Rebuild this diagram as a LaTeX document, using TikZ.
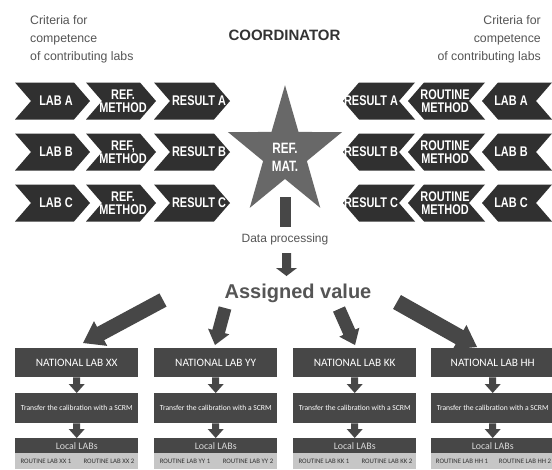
\documentclass[tikz,border=0pt]{standalone}
\usepackage{fontspec}
\setmainfont{Liberation Sans}
\newfontfamily\condfont[FakeStretch=0.78]{Liberation Sans}
\newfontfamily\calfont{Carlito}
\usetikzlibrary{calc}
\definecolor{chev}{HTML}{303030}
\definecolor{stargray}{HTML}{686868}
\definecolor{boxgray}{HTML}{474747}
\definecolor{rowgray}{HTML}{C6C6C6}
\definecolor{txtgray}{HTML}{555555}
\definecolor{lightt}{HTML}{DADADA}
\definecolor{darkt}{HTML}{333333}

% right-pointing chevron: left x, tip x, centre y
\newcommand{\chevR}[3]{\fill[chev] (#1,#3-18.5) -- (#2-16,#3-18.5) -- (#2,#3) -- (#2-16,#3+18.5) -- (#1,#3+18.5) -- (#1+16,#3) -- cycle;}
% left-pointing chevron: tip x, right x, centre y
\newcommand{\chevL}[3]{\fill[chev] (#1,#3) -- (#1+16,#3-18.5) -- (#2,#3-18.5) -- (#2-16,#3) -- (#2,#3+18.5) -- (#1+16,#3+18.5) -- cycle;}
% block arrow: tail, tip, shaft half width, head half width, head length
\newcommand{\blk}[5]{%
  \coordinate (bkC) at ($(#2)!#5!(#1)$);
  \fill[boxgray] ($(#1)!#3!90:(#2)$) -- ($(bkC)!#3!-90:(#1)$) -- ($(bkC)!#4!-90:(#1)$) -- (#2)
     -- ($(bkC)!#4!90:(#1)$) -- ($(bkC)!#3!90:(#1)$) -- ($(#1)!#3!-90:(#2)$) -- cycle;}

\tikzset{
  chevtxt/.style={text=white, font=\condfont\bfseries\fontsize{14}{13.5}\selectfont, align=center, inner sep=0pt},
  startxt/.style={text=white, font=\condfont\bfseries\fontsize{15}{18}\selectfont, align=center, inner sep=0pt},
  crit/.style={text=txtgray, font=\fontsize{12.3}{18}\selectfont, inner sep=0pt},
  natbox/.style={rectangle, fill=boxgray, inner sep=0pt, anchor=north west, minimum width=123pt},
  nattxt/.style={text=white, font=\calfont\fontsize{11.3}{12}\selectfont, inner sep=0pt},
  trtxt/.style={text=white, font=\calfont\fontsize{7.6}{8}\selectfont, inner sep=0pt},
  loctxt/.style={text=lightt, font=\calfont\fontsize{9.9}{10}\selectfont, inner sep=0pt},
  rowtxt/.style={text=darkt, font=\calfont\fontsize{6.8}{7}\selectfont, inner sep=0pt},
}

\begin{document}
\begin{tikzpicture}[x=1pt,y=-1pt]
\useasboundingbox (0,0) rectangle (552,469);
\fill[white] (0,0) rectangle (552,469);

% headers
\node[crit, anchor=base west] (cl1) at (30,24) {Criteria for};
\node[crit, anchor=base west] (cl2) at (30,42) {competence};
\node[crit, anchor=base west] (cl3) at (30,60) {of contributing labs};
\node[crit, anchor=base east] (cr1) at (541,24) {Criteria for};
\node[crit, anchor=base east] (cr2) at (541,42) {competence};
\node[crit, anchor=base east] (cr3) at (541,60) {of contributing labs};
\node[anchor=base, inner sep=0pt, text=darkt, font=\bfseries\fontsize{15}{15}\selectfont] (coord) at (284.5,40) {COORDINATOR};

% chevron rows
\foreach \L/\y/\r in {A/101/REF.,B/152/{REF,},C/203/REF.} {
  \chevR{15}{90}{\y}
  \chevR{86}{156}{\y}
  \chevR{154}{230}{\y}
  \node[chevtxt] (labL\L) at (56,\y) {LAB \L};
  \node[chevtxt] (refL\L) at (123,\y) {\r\\METHOD};
  \node[chevtxt] (resL\L) at (199,\y) {RESULT \L};
  \chevL{343}{415}{\y}
  \chevL{408}{485}{\y}
  \chevL{482}{552}{\y}
  \node[chevtxt] (resR\L) at (371,\y) {RESULT \L};
  \node[chevtxt] (rouR\L) at (445,\y) {ROUTINE\\METHOD};
  \node[chevtxt] (labR\L) at (511,\y) {LAB \L};
}

% star
\fill[stargray, shift={(285,153)}, yscale=1.13]
  (-90:60) -- (-54:23) -- (-18:60) -- (18:23) -- (54:60) -- (90:23)
  -- (126:60) -- (162:23) -- (198:60) -- (234:23) -- cycle;
\node[startxt] (star) at (285,157.5) {REF.\\MAT.};

% data processing
\coordinate (barTop) at (285.5,197);
\fill[boxgray] (280,197) rectangle (291,227);
\node[anchor=base, inner sep=0pt, text=txtgray, font=\fontsize{12}{12}\selectfont] (dp) at (285,242) {Data processing};
\coordinate (dpA) at (286.5,253);
\coordinate (dpB) at (286.5,276);
\blk{dpA}{dpB}{4.5pt}{10.5pt}{8pt}

\node[anchor=base, inner sep=0pt, text=txtgray, font=\bfseries\fontsize{20}{20}\selectfont] (av) at (298,298) {Assigned value};

% big arrows
\coordinate (t1) at (163,300); \coordinate (h1) at (83,343);
\coordinate (t2) at (225,308); \coordinate (h2) at (215,345);
\coordinate (t3) at (339,309); \coordinate (h3) at (355,345);
\coordinate (t4) at (397,302); \coordinate (h4) at (477,347);
\blk{t1}{h1}{7.5pt}{14pt}{20pt}
\blk{t2}{h2}{6.5pt}{11pt}{14pt}
\blk{t3}{h3}{6.5pt}{11pt}{14pt}
\blk{t4}{h4}{8pt}{14pt}{20pt}

% national lab columns
\foreach \n/\x in {XX/15,YY/154,KK/293,HH/431} {
  \node[natbox, minimum height=29pt] (nat\n) at (\x,348) {};
  \node[nattxt] (natt\n) at (nat\n.center) {NATIONAL LAB \n};
  \node[natbox, minimum height=30pt] (tr\n) at (\x,393) {};
  \node[trtxt] (trt\n) at (tr\n.center) {Transfer the calibration with a SCRM};
  \node[natbox, minimum height=15pt] (loc\n) at (\x,438) {};
  \node[loctxt] (loct\n) at (loc\n.center) {Local LABs};
  \node[natbox, fill=rowgray, minimum height=16pt] (row\n) at (\x,453) {};
  \node[rowtxt] (ra\n) at (\x+31,461) {ROUTINE LAB \n\ 1};
  \node[rowtxt] (rb\n) at (\x+94,461) {ROUTINE LAB \n\ 2};
  \blk{nat\n.south}{tr\n.north}{3.5pt}{8pt}{9pt}
  \blk{tr\n.south}{loc\n.north}{3.5pt}{8pt}{9pt}
}
\end{tikzpicture}
\end{document}
